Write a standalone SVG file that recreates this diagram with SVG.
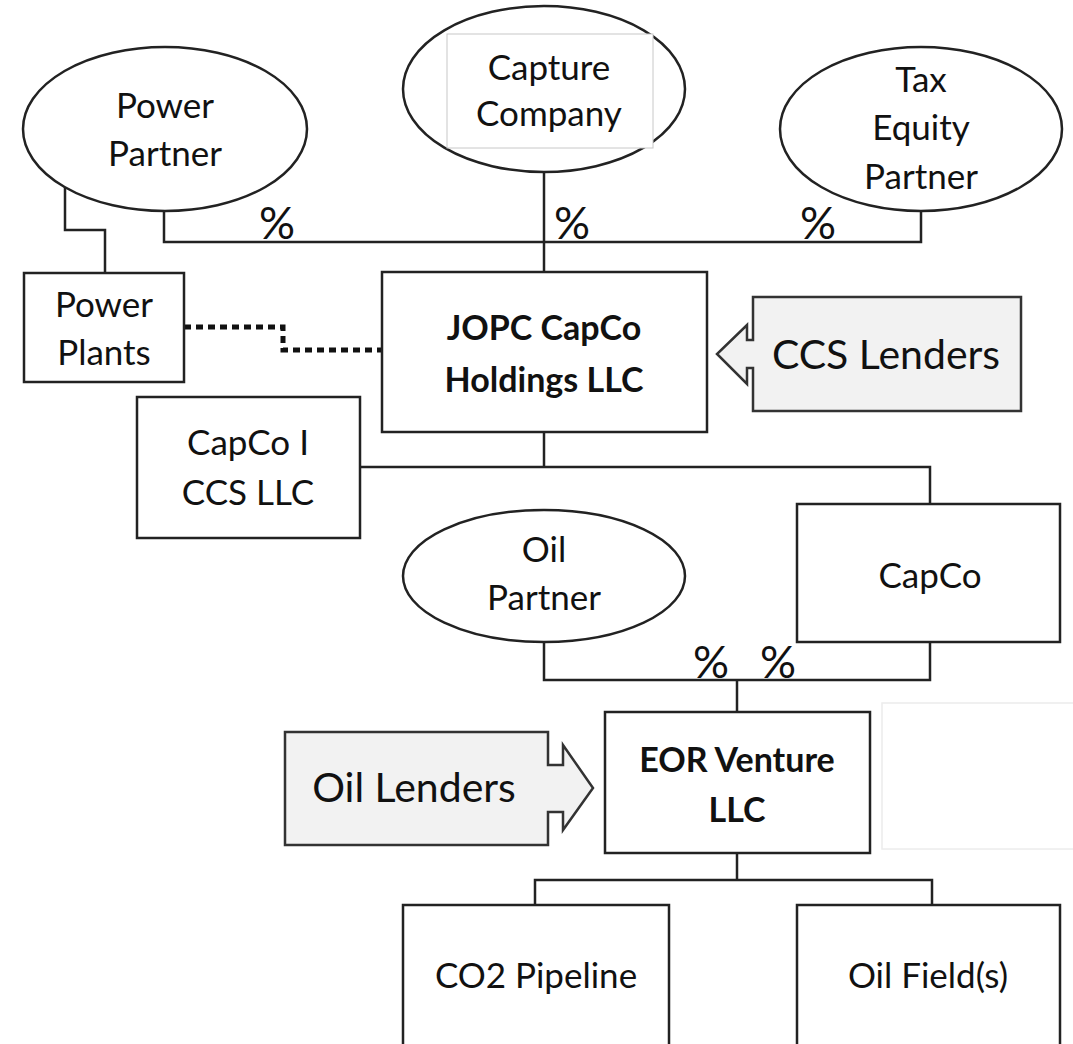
<svg xmlns="http://www.w3.org/2000/svg" width="1073" height="1044" viewBox="0 0 1073 1044">
<style>
.shape{fill:#fff;stroke:#222;stroke-width:2.5}
.lend{fill:#f2f2f2;stroke:#333;stroke-width:2.5}
.t{font-family:Lato,"Liberation Sans",sans-serif;font-size:35px;fill:#111;text-anchor:middle}
.b{font-weight:bold;font-size:34px}
.big{font-size:41px}
.pct{font-family:Lato,"Liberation Sans",sans-serif;font-size:45px;fill:#111;text-anchor:middle}
.ln{fill:none;stroke:#222;stroke-width:2.5}
.dot{fill:none;stroke:#111;stroke-width:5;stroke-dasharray:7 5}
</style>
<rect width="1073" height="1044" fill="#fff"/>
<g id="connectors">
<polyline class="ln" points="164,211 164,242 921,242 921,211"/>
<line class="ln" x1="544" y1="172" x2="544" y2="272"/>
<polyline class="ln" points="65,187 65,230 105,230 105,273"/>
<polyline class="dot" points="184,327 283,327 283,350 382,350"/>
<line class="ln" x1="544" y1="432" x2="544" y2="467"/>
<polyline class="ln" points="360,467 930,467 930,504"/>
<polyline class="ln" points="544,642 544,680 930,680 930,642"/>
<line class="ln" x1="737" y1="680" x2="737" y2="712"/>
<line class="ln" x1="737" y1="853" x2="737" y2="880"/>
<polyline class="ln" points="535,905 535,880 932,880 932,905"/>
<text class="pct" x="277" y="239">%</text>
<text class="pct" x="572" y="239">%</text>
<text class="pct" x="818" y="239">%</text>
<text class="pct" x="711" y="678">%</text>
<text class="pct" x="778" y="678">%</text>
</g>
<g id="power-partner">
<ellipse class="shape" cx="165" cy="129" rx="142" ry="82"/>
<text class="t" x="165" y="118">Power</text>
<text class="t" x="165" y="166">Partner</text>
</g>
<g id="capture-company">
<ellipse class="shape" cx="544" cy="89" rx="141" ry="83"/>
<rect x="447" y="34" width="206" height="114" fill="#fff" stroke="#c8c8c8" stroke-width="1"/>
<text class="t" x="549" y="80">Capture</text>
<text class="t" x="549" y="126">Company</text>
</g>
<g id="tax-equity-partner">
<ellipse class="shape" cx="921" cy="129" rx="141" ry="82"/>
<text class="t" x="921" y="92">Tax</text>
<text class="t" x="921" y="140">Equity</text>
<text class="t" x="921" y="189">Partner</text>
</g>
<g id="power-plants">
<rect class="shape" x="24" y="273" width="160" height="109"/>
<text class="t" x="104" y="317">Power</text>
<text class="t" x="104" y="365">Plants</text>
</g>
<g id="jopc">
<rect class="shape" x="382" y="272" width="325" height="160"/>
<text class="t b" x="544" y="340">JOPC CapCo</text>
<text class="t b" x="544" y="392">Holdings LLC</text>
</g>
<g id="ccs-lenders">
<path class="lend" d="M753,297 H1021 V411 H753 V368 H747 V384 L717,354 L747,325 V340 H753 Z"/>
<text class="t big" x="886" y="369">CCS Lenders</text>
</g>
<g id="capco-i">
<rect class="shape" x="137" y="397" width="223" height="141"/>
<text class="t" x="248" y="455">CapCo I</text>
<text class="t" x="248" y="505">CCS LLC</text>
</g>
<g id="oil-partner">
<ellipse class="shape" cx="544" cy="576" rx="141" ry="66"/>
<text class="t" x="544" y="562">Oil</text>
<text class="t" x="544" y="610">Partner</text>
</g>
<g id="capco">
<rect class="shape" x="797" y="504" width="263" height="138"/>
<text class="t" x="930" y="588">CapCo</text>
</g>
<rect x="882" y="703" width="200" height="146" fill="#fff" stroke="#ececec" stroke-width="1.5"/>
<g id="oil-lenders">
<path class="lend" d="M285,732 H548 V765 H563 V745 L593,788 L563,830 V812 H548 V845 H285 Z"/>
<text class="t big" x="414" y="802">Oil Lenders</text>
</g>
<g id="eor-venture">
<rect class="shape" x="605" y="712" width="265" height="141"/>
<text class="t b" x="737" y="772">EOR Venture</text>
<text class="t b" x="737" y="822">LLC</text>
</g>
<g id="co2-pipeline">
<rect class="shape" x="403" y="905" width="266" height="150"/>
<text class="t" x="536" y="988">CO2 Pipeline</text>
</g>
<g id="oil-fields">
<rect class="shape" x="797" y="905" width="263" height="150"/>
<text class="t" x="928" y="988">Oil Field(s)</text>
</g>
</svg>
